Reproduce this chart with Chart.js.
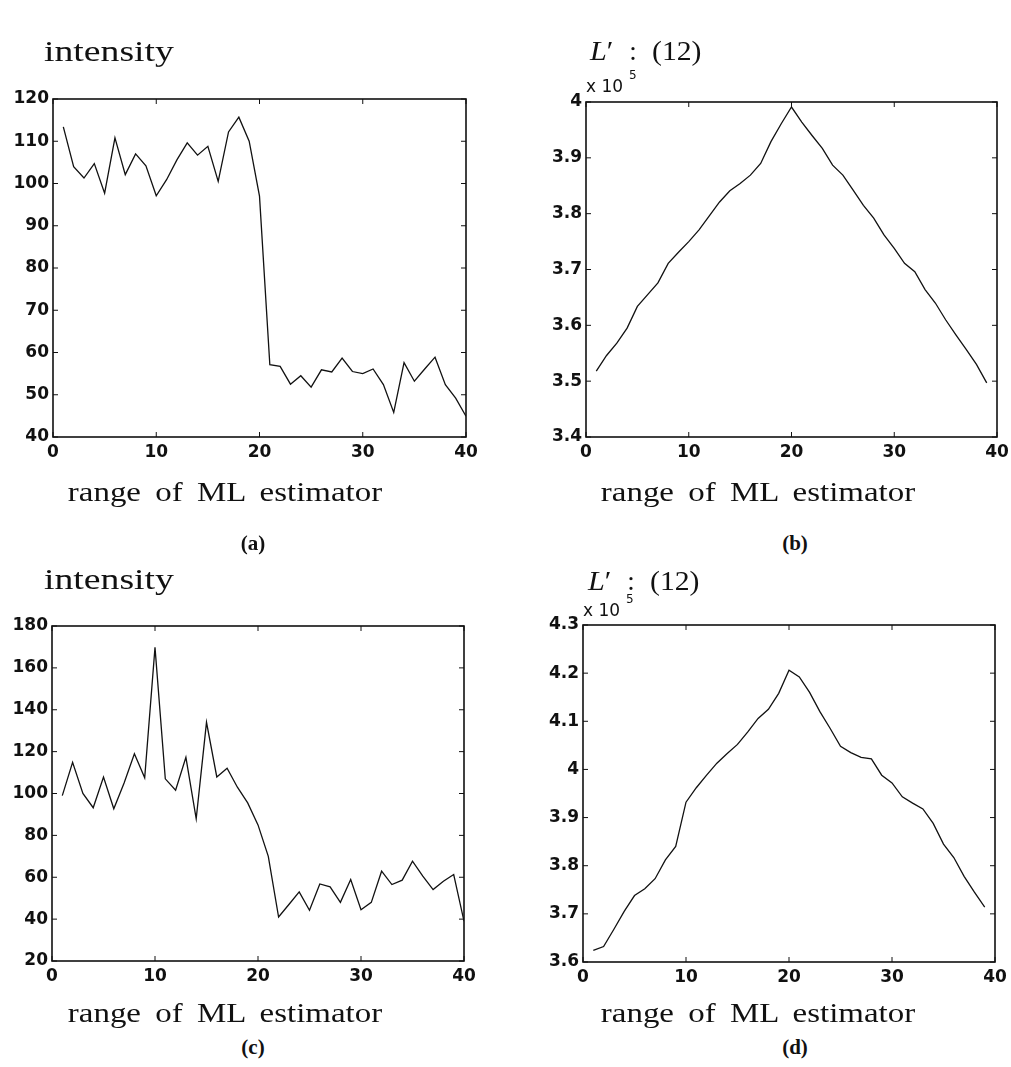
<!DOCTYPE html>
<html>
<head>
<meta charset="utf-8">
<script src="https://cdn.jsdelivr.net/npm/chart.js@4"></script>
<style>
  html, body { margin: 0; padding: 0; background: #fff; }
  body { width: 1011px; height: 1067px; position: relative; overflow: hidden; }
  canvas { position: absolute; }
  .t { position: absolute; white-space: nowrap; color: #111; line-height: 1; }
  .serif { font-family: "Liberation Serif", "Times New Roman", serif; font-size: 27px; }
  .ttl { font-family: "Liberation Serif", "Times New Roman", serif; font-size: 29px; }
  .xl { font-family: "Liberation Serif", "Times New Roman", serif; font-size: 27px; word-spacing: 5px; }
  .lab { font-family: "Liberation Serif", "Times New Roman", serif; font-size: 21px; font-weight: bold; }
  .sans { font-family: "DejaVu Sans", sans-serif; font-size: 17px; }
  .sup { font-family: "DejaVu Sans", sans-serif; font-size: 12px; }
</style>
</head>
<body>
<canvas id="cA"></canvas>
<canvas id="cB"></canvas>
<canvas id="cC"></canvas>
<canvas id="cD"></canvas>

<!-- titles -->
<div class="t ttl" style="left:44px;top:51px;transform:translateY(-50%) scaleX(1.3);transform-origin:left center;">intensity</div>
<div class="t serif" style="left:590px;top:51px;transform:translateY(-50%) scaleX(1.12);transform-origin:left center;"><i>L</i>&#8242;</div>
<div class="t serif" style="left:633px;top:51px;transform:translate(-50%,-50%);">:</div>
<div class="t serif" style="left:652px;top:51px;transform:translateY(-50%) scaleX(1.1);transform-origin:left center;">(12)</div>

<div class="t ttl" style="left:44px;top:579px;transform:translateY(-50%) scaleX(1.3);transform-origin:left center;">intensity</div>
<div class="t serif" style="left:588px;top:581px;transform:translateY(-50%) scaleX(1.12);transform-origin:left center;"><i>L</i>&#8242;</div>
<div class="t serif" style="left:631px;top:581px;transform:translate(-50%,-50%);">:</div>
<div class="t serif" style="left:650px;top:581px;transform:translateY(-50%) scaleX(1.1);transform-origin:left center;">(12)</div>

<!-- exponent labels -->
<div class="t sans" style="left:586px;top:86px;transform:translateY(-50%);">x 10</div>
<div class="t sup" style="left:629px;top:75px;transform:translateY(-50%);">5</div>
<div class="t sans" style="left:583px;top:610px;transform:translateY(-50%);">x 10</div>
<div class="t sup" style="left:626px;top:599px;transform:translateY(-50%);">5</div>

<!-- x-axis labels -->
<div class="t xl" style="left:225px;top:492px;transform:translate(-50%,-50%) scaleX(1.22);">range of ML estimator</div>
<div class="t xl" style="left:758px;top:492px;transform:translate(-50%,-50%) scaleX(1.22);">range of ML estimator</div>
<div class="t xl" style="left:225px;top:1013px;transform:translate(-50%,-50%) scaleX(1.22);">range of ML estimator</div>
<div class="t xl" style="left:758px;top:1013px;transform:translate(-50%,-50%) scaleX(1.22);">range of ML estimator</div>

<!-- subplot labels -->
<div class="t lab" style="left:253px;top:543px;transform:translate(-50%,-50%);">(a)</div>
<div class="t lab" style="left:795px;top:543px;transform:translate(-50%,-50%);">(b)</div>
<div class="t lab" style="left:253px;top:1047px;transform:translate(-50%,-50%);">(c)</div>
<div class="t lab" style="left:795px;top:1047px;transform:translate(-50%,-50%);">(d)</div>

<script>
// ---------------- data ----------------
const positions = [1,2,3,4,5,6,7,8,9,10,11,12,13,14,15,16,17,18,19,20,
                   21,22,23,24,25,26,27,28,29,30,31,32,33,34,35,36,37,38,39,40];

// (a) intensity
const intensityA = [113.4,104.0,101.3,104.7,97.7,110.8,102.1,107.0,104.2,97.1,
                    100.9,105.6,109.6,106.7,108.8,100.5,112.2,115.7,110.0,97.0,
                    57.1,56.7,52.5,54.5,51.8,55.9,55.4,58.7,55.5,55.0,
                    56.1,52.4,45.8,57.6,53.2,56.1,58.9,52.4,49.2,44.9];

// (b) L' (x 10^5)
const lPrimeB = [3.518,3.546,3.568,3.595,3.634,3.655,3.676,3.711,3.731,3.750,
                 3.771,3.796,3.821,3.841,3.854,3.869,3.890,3.929,3.961,3.991,
                 3.964,3.940,3.917,3.887,3.869,3.842,3.815,3.792,3.762,3.738,
                 3.711,3.696,3.664,3.640,3.610,3.583,3.557,3.530,3.497];

// (c) intensity
const intensityC = [99.0,114.9,100.0,93.2,107.9,92.7,105.0,119.0,107.5,169.8,
                    107.0,101.6,117.3,87.9,134.0,107.9,112.1,103.0,95.5,85.0,
                    70.0,41.0,47.0,53.0,44.2,56.8,55.4,48.0,58.9,44.5,
                    48.0,62.9,56.5,58.6,67.7,60.5,54.1,58.1,61.3,39.0];

// (d) L' (x 10^5)
const lPrimeD = [3.624,3.632,3.668,3.705,3.738,3.752,3.773,3.812,3.840,3.932,
                 3.962,3.988,4.013,4.033,4.052,4.078,4.106,4.125,4.158,4.206,
                 4.192,4.160,4.120,4.085,4.048,4.035,4.025,4.022,3.988,3.972,
                 3.943,3.930,3.918,3.888,3.845,3.817,3.778,3.745,3.714];

// tick labels
const xTicks  = [0,10,20,30,40];
const yTicksA = [40,50,60,70,80,90,100,110,120];
const yTicksB = [3.4,3.5,3.6,3.7,3.8,3.9,4.0];
const yTicksC = [20,40,60,80,100,120,140,160,180];
const yTicksD = [3.6,3.7,3.8,3.9,4.0,4.1,4.2,4.3];

// ---------------- drawing ----------------
const boxTicks = {
  id: 'boxTicks',
  afterDraw(chart) {
    const ctx = chart.ctx;
    const { left, right, top, bottom } = chart.chartArea;
    const xs = chart.scales.x, ys = chart.scales.y;
    const L = 5;
    ctx.save();
    ctx.strokeStyle = '#111';
    ctx.lineWidth = 1;
    ctx.beginPath();
    xs.ticks.forEach(t => {
      const p = xs.getPixelForValue(t.value);
      ctx.moveTo(p, bottom); ctx.lineTo(p, bottom - L);
      ctx.moveTo(p, top); ctx.lineTo(p, top + L);
    });
    ys.ticks.forEach(t => {
      const p = ys.getPixelForValue(t.value);
      ctx.moveTo(left, p); ctx.lineTo(left + L, p);
      ctx.moveTo(right, p); ctx.lineTo(right - L, p);
    });
    ctx.stroke();
    ctx.lineWidth = 1.6;
    ctx.strokeRect(left, top, right - left, bottom - top);
    ctx.restore();
  }
};

const tickFont = { family: 'DejaVu Sans', size: 17, weight: 'bold' };

function makePlot(id, area, xs, ys, yTicks) {
  const padL = 70, padT = 40, padR = 30, padB = 40;
  const canvas = document.getElementById(id);
  const W = area.r - area.l + padL + padR;
  const H = area.b - area.t + padT + padB;
  canvas.width = W; canvas.height = H;
  canvas.style.width = W + 'px'; canvas.style.height = H + 'px';
  canvas.style.left = (area.l - padL) + 'px';
  canvas.style.top = (area.t - padT) + 'px';
  new Chart(canvas, {
    type: 'line',
    data: {
      datasets: [{
        data: xs.slice(0, ys.length).map((x, i) => ({ x: x, y: ys[i] })),
        borderColor: '#111', borderWidth: 1.3, pointRadius: 0, tension: 0, fill: false
      }]
    },
    options: {
      responsive: false, animation: false, devicePixelRatio: 1,
      layout: { padding: { left: 0, top: padT, right: padR, bottom: 0 } },
      plugins: { legend: { display: false }, tooltip: { enabled: false } },
      scales: {
        x: {
          type: 'linear', min: xTicks[0], max: xTicks[xTicks.length - 1],
          afterBuildTicks: s => { s.ticks = xTicks.map(v => ({ value: v })); },
          afterFit: s => { s.height = padB; },
          grid: { display: false, drawTicks: false },
          border: { display: false },
          ticks: { font: tickFont, color: '#111', padding: 5, maxRotation: 0, autoSkip: false,
                   callback: v => String(v) }
        },
        y: {
          type: 'linear', min: yTicks[0], max: yTicks[yTicks.length - 1],
          afterBuildTicks: s => { s.ticks = yTicks.map(v => ({ value: v })); },
          afterFit: s => { s.width = padL; },
          grid: { display: false, drawTicks: false },
          border: { display: false },
          ticks: { font: tickFont, color: '#111', padding: 4, autoSkip: false,
                   callback: v => String(parseFloat(Number(v).toFixed(2))) }
        }
      }
    },
    plugins: [boxTicks]
  });
}

makePlot('cA', { l: 53, r: 466, t: 99, b: 437 }, positions, intensityA, yTicksA);
makePlot('cB', { l: 586, r: 997, t: 102, b: 437 }, positions, lPrimeB, yTicksB);
makePlot('cC', { l: 52, r: 464, t: 626, b: 961 }, positions, intensityC, yTicksC);
makePlot('cD', { l: 583, r: 995, t: 625, b: 962 }, positions, lPrimeD, yTicksD);
</script>
</body>
</html>
